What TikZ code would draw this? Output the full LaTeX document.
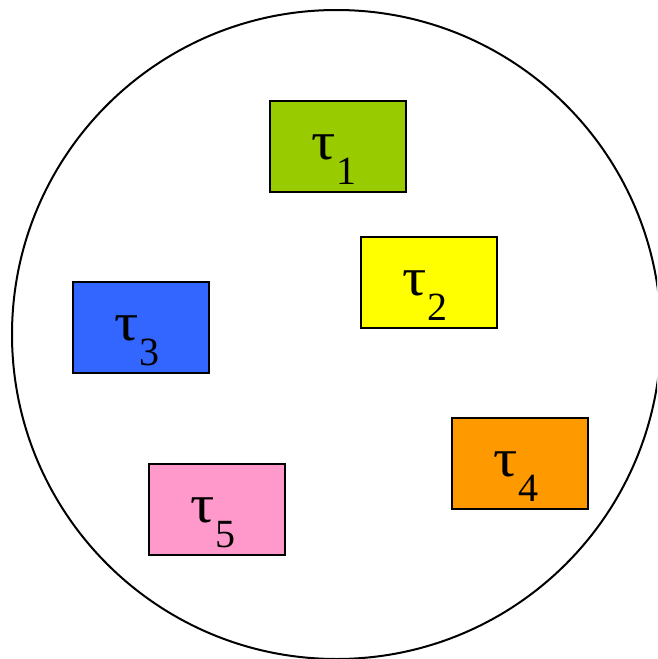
\documentclass[tikz,border=0pt]{standalone}
\usepackage{fontspec}
\setmainfont{Liberation Serif}
\usetikzlibrary{calc}
\definecolor{cgreen}{HTML}{99CC00}
\definecolor{cyellow}{HTML}{FFFF00}
\definecolor{cblue}{HTML}{3366FF}
\definecolor{corange}{HTML}{FF9900}
\definecolor{cpink}{HTML}{FF99CC}
\newcommand{\tausub}[1]{\fontsize{54}{56}\selectfont\scalebox{1.12}[1.0]{τ}\kern1pt\raisebox{-25pt}{\fontsize{40}{44}\selectfont #1}}
\tikzset{
  taskbox/.style={draw=black, line width=1.5pt, minimum width=136pt, minimum height=91pt, inner sep=0pt},
  tasklbl/.style={anchor=base west, inner sep=0pt},
}
\begin{document}
\begin{tikzpicture}[x=1pt,y=-1pt]
\useasboundingbox (0,0) rectangle (657,659);
\clip (0,0) rectangle (657,659);
\fill[white] (0,0) rectangle (657,659);
\node[draw=black, line width=2pt, circle, minimum size=649pt, inner sep=0pt] (pool) at (336.5,334.5) {};
\node[taskbox, fill=cgreen] (b1) at (338,146.5) {};
\node[taskbox, fill=cyellow] (b2) at (429,282.5) {};
\node[taskbox, fill=cblue] (b3) at (141,327.5) {};
\node[taskbox, fill=corange] (b4) at (520,463.5) {};
\node[taskbox, fill=cpink] (b5) at (217,509.5) {};
\node[tasklbl] (l1) at ($(b1.north west)+(42,59)$) {\tausub{1}};
\node[tasklbl] (l2) at ($(b2.north west)+(42,59)$) {\tausub{2}};
\node[tasklbl] (l3) at ($(b3.north west)+(42,59)$) {\tausub{3}};
\node[tasklbl] (l4) at ($(b4.north west)+(42,59)$) {\tausub{4}};
\node[tasklbl] (l5) at ($(b5.north west)+(42,59)$) {\tausub{5}};
\end{tikzpicture}
\end{document}
